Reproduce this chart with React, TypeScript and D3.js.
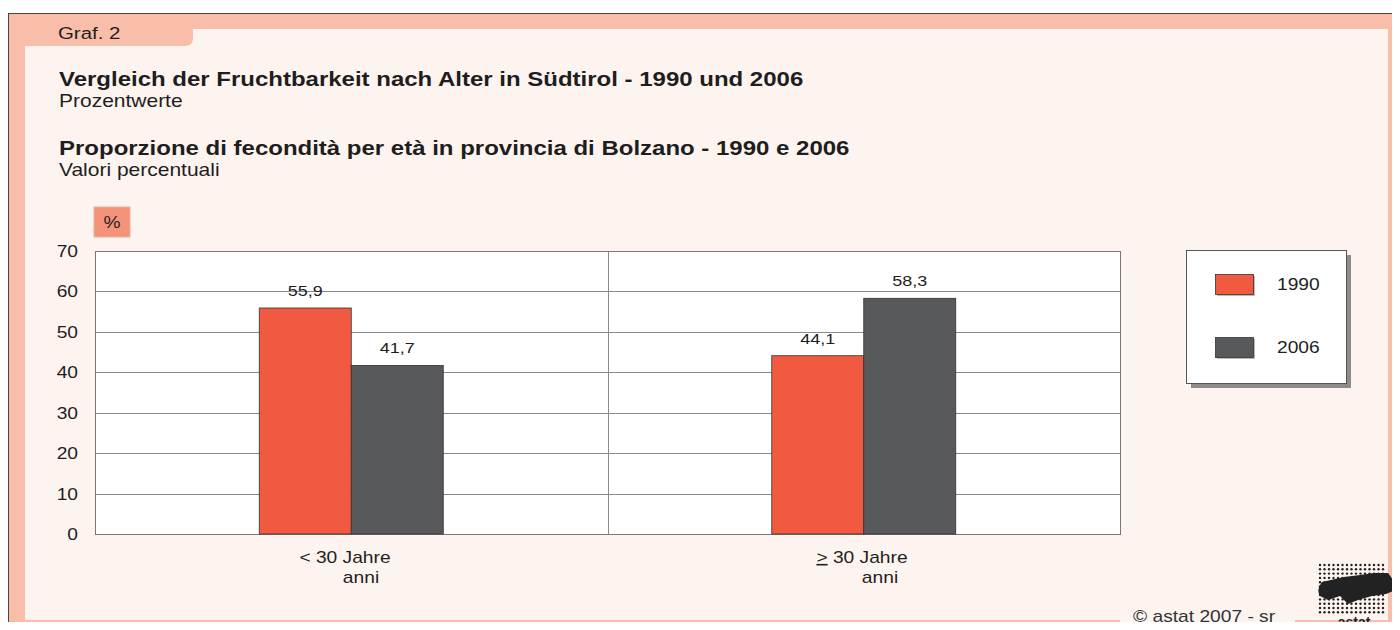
import { useEffect, useRef } from 'react';
import * as d3 from 'd3';

const categories = ['lt30', 'ge30'];
const years = ['1990', '2006'];
const values1990 = [55.9, 44.1];
const values2006 = [41.7, 58.3];
const yTicks = [0, 10, 20, 30, 40, 50, 60, 70];

const RED = '#F15A40';
const GREY = '#58595B';
const SALMON = '#F9BEA9';
const CREAM = '#FEF4EF';
const FONT = 'Liberation Sans, Arial, sans-serif';
const SX = 1.2; // the reference's lettering is stretched sideways

type Sel = d3.Selection<SVGSVGElement | SVGGElement, unknown, null, undefined>;

// text drawn at (x, y) with the horizontal stretch
function label(parent: Sel, x: number, y: number, size: number, txt: string, anchor = 'start', weight = 'normal') {
  return parent
    .append('text')
    .attr('transform', `translate(${x},${y}) scale(${SX},1)`)
    .attr('text-anchor', anchor)
    .attr('font-size', size)
    .attr('font-weight', weight)
    .attr('fill', '#1e1e1e')
    .text(txt);
}

export default function App() {
  const svgRef = useRef<SVGSVGElement>(null);

  useEffect(() => {
    if (!svgRef.current) return;
    const svg = d3.select(svgRef.current) as unknown as Sel;
    svg.selectAll('*').remove();
    svg.attr('font-family', FONT);

    // frame
    svg.append('rect').attr('x', 0).attr('y', 0).attr('width', 1400).attr('height', 630).attr('fill', '#fff');
    svg.append('rect').attr('x', 8.5).attr('y', 13.5).attr('width', 1400).attr('height', 630)
      .attr('fill', SALMON).attr('stroke', '#444').attr('stroke-width', 1);
    svg.append('path')
      .attr('d', 'M25,46 L185,46 Q193,46 193,38 L193,29 L1388,29 L1388,620 L25,620 Z')
      .attr('fill', CREAM);
    // copyright tab
    svg.append('path')
      .attr('d', 'M1120,619 L1295,619 L1295,620 Q1295,627 1288,627 L1127,627 Q1120,627 1120,620 Z')
      .attr('fill', CREAM);
    label(svg, 58, 39, 17, 'Graf. 2');

    // titles
    label(svg, 59, 86, 20, 'Vergleich der Fruchtbarkeit nach Alter in Südtirol - 1990 und 2006', 'start', 'bold');
    label(svg, 59, 107, 17.5, 'Prozentwerte');
    label(svg, 59, 155, 20, 'Proporzione di fecondità per età in provincia di Bolzano - 1990 e 2006', 'start', 'bold');
    label(svg, 59, 176, 17.5, 'Valori percentuali');

    // plot
    const left = 95, right = 1120, top = 251, bottom = 534;
    const y = d3.scaleLinear().domain([0, 70]).range([bottom, top]);
    const x0 = d3.scaleBand().domain(categories).range([left, right]);
    const x1 = d3.scaleBand().domain(years).range([0, 184]);

    svg.append('rect').attr('x', 94).attr('y', 207).attr('width', 36).attr('height', 30)
      .attr('fill', '#F5937A').attr('stroke', '#e8b0a0');
    label(svg, 112, 228, 16, '%', 'middle');

    svg.append('rect').attr('x', left).attr('y', top).attr('width', right - left).attr('height', bottom - top)
      .attr('fill', '#fff');
    svg.append('g').selectAll('line').data(yTicks.filter((d) => d > 0)).enter().append('line')
      .attr('x1', left).attr('x2', right)
      .attr('y1', (d) => Math.round(y(d)) + 0.5).attr('y2', (d) => Math.round(y(d)) + 0.5)
      .attr('stroke', '#8a8a8a').attr('stroke-width', 1);
    svg.append('line').attr('x1', 608.5).attr('x2', 608.5).attr('y1', top).attr('y2', bottom)
      .attr('stroke', '#8a8a8a');
    svg.append('rect').attr('x', left + 0.5).attr('y', top + 0.5).attr('width', right - left).attr('height', bottom - top)
      .attr('fill', 'none').attr('stroke', '#777');

    yTicks.forEach((d) => label(svg, 78, y(d) + 6, 16, String(d), 'end'));

    const series = [values1990, values2006];
    const colors = [RED, GREY];
    categories.forEach((c, ci) => {
      const gx = (x0(c) ?? 0) + x0.bandwidth() / 2 - 92;
      years.forEach((yr, si) => {
        const v = series[si][ci];
        const bx = gx + (x1(yr) ?? 0);
        svg.append('rect').attr('x', bx).attr('y', y(v)).attr('width', x1.bandwidth()).attr('height', bottom - y(v))
          .attr('fill', colors[si]).attr('stroke', '#333').attr('stroke-width', 0.8);
        label(svg, bx + x1.bandwidth() / 2, y(v) - 12, 15, String(v).replace('.', ','), 'middle');
      });
    });

    // category labels
    label(svg, 345, 563, 16, '< 30 Jahre', 'middle');
    label(svg, 361, 583, 16, 'anni', 'middle');
    const c2 = label(svg, 862, 563, 16, '', 'middle');
    c2.append('tspan').attr('text-decoration', 'underline').text('>');
    c2.append('tspan').text(' 30 Jahre');
    label(svg, 880, 583, 16, 'anni', 'middle');

    // legend
    svg.append('rect').attr('x', 1191).attr('y', 255).attr('width', 160).attr('height', 133).attr('fill', '#8c8c8c');
    svg.append('rect').attr('x', 1186.5).attr('y', 250.5).attr('width', 160).attr('height', 133)
      .attr('fill', '#fff').attr('stroke', '#555');
    years.forEach((yr, i) => {
      const ly = 274 + i * 63;
      svg.append('rect').attr('x', 1217).attr('y', ly + 2).attr('width', 38).attr('height', 20).attr('fill', '#bbb');
      svg.append('rect').attr('x', 1215.5).attr('y', ly + 0.5).attr('width', 38).attr('height', 20)
        .attr('fill', colors[i]).attr('stroke', '#333').attr('stroke-width', 0.8);
      label(svg, 1277, ly + 16, 16, yr);
    });

    // copyright
    label(svg, 1133, 622, 16, '©  astat 2007 - sr').attr('fill', '#333');

    // logo
    const logo = svg.append('g');
    const dots: [number, number][] = [];
    for (let i = 0; i < 15; i++) for (let j = 0; j < 12; j++) dots.push([1320 + i * 4.5, 565 + j * 4.3]);
    logo.selectAll('circle').data(dots).enter().append('circle')
      .attr('cx', (d) => d[0]).attr('cy', (d) => d[1]).attr('r', 1.2).attr('fill', '#222');
    logo.append('path')
      .attr('d', 'M1322,582 Q1316,590 1320,596 L1328,600 L1340,596 L1348,604 L1358,600 L1372,596 L1386,594 L1396,590 Q1399,584 1393,580 L1388,573 L1374,573 L1360,575 L1344,577 Z')
      .attr('fill', '#222');
    logo.append('text').attr('x', 1354).attr('y', 627).attr('text-anchor', 'middle').attr('font-size', 14)
      .attr('font-weight', 'bold').attr('fill', '#222').text('astat');
  }, []);

  return (
    <div style={{ margin: -8, width: 1400, height: 630, overflow: 'hidden' }}>
      <svg ref={svgRef} width={1400} height={630} style={{ display: 'block' }} />
    </div>
  );
}
